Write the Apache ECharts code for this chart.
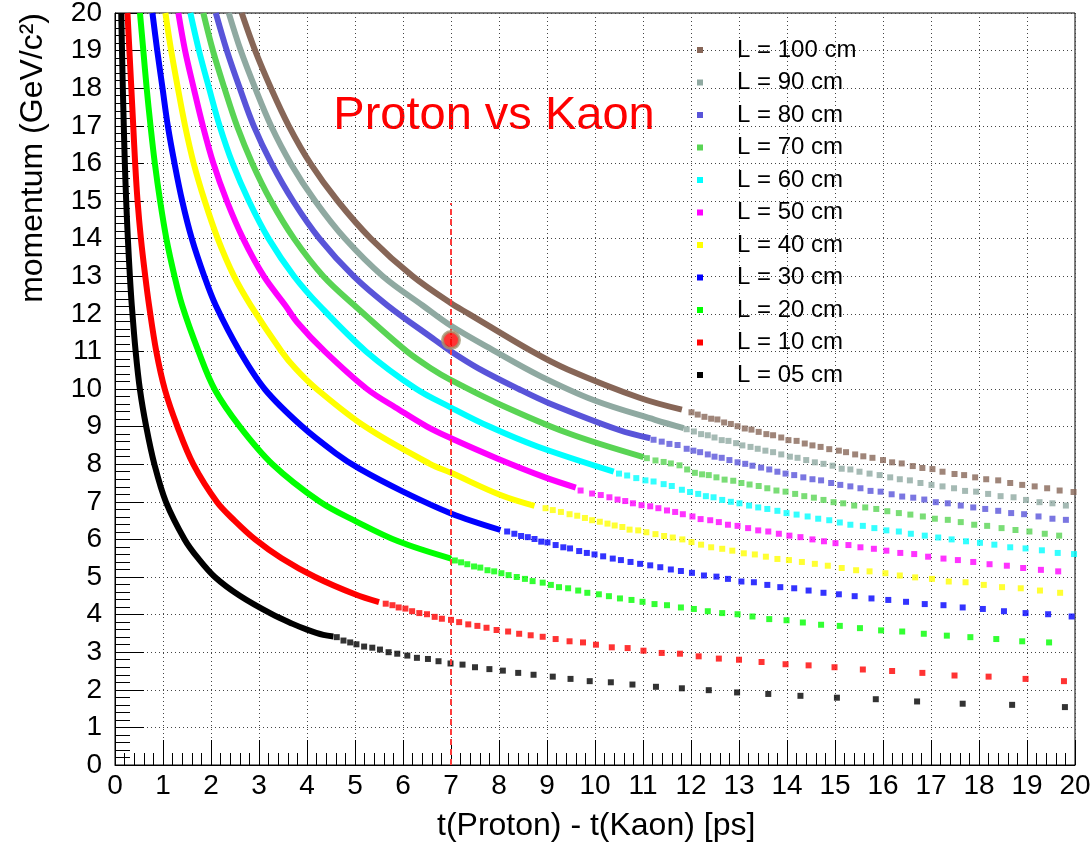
<!DOCTYPE html>
<html>
<head>
<meta charset="utf-8">
<title>Proton vs Kaon</title>
<script src="https://cdn.jsdelivr.net/npm/echarts@6.0.0/dist/echarts.min.js"></script>
<style>
  html, body { margin: 0; padding: 0; background: #fff; }
  #chart { width: 1090px; height: 846px; }
</style>
</head>
<body>
<div id="chart"></div>
<script>
// values, every point is [t(Proton) - t(Kaon) in ps, momentum in GeV/c]
const names = ['L = 100 cm', 'L = 90 cm', 'L = 80 cm', 'L = 70 cm', 'L = 60 cm', 'L = 50 cm',
  'L = 40 cm', 'L = 30 cm', 'L = 20 cm', 'L = 10 cm', 'L = 05 cm'];

// where the markers overlap into a solid band
const dense100 = [[2.64,20],[2.92,19],[3.25,18],[3.62,17],[4.07,16],[4.64,15],[5.33,14],[6.2,13],[7.0,12.28],[7.37,12],[8.69,11],[9.43,10.52],[10.94,9.76],[11.81,9.45]];
const dense90 = [[2.37,20],[2.62,19],[2.92,18],[3.25,17],[3.66,16],[4.17,15],[4.79,14],[5.58,13],[6.41,12.22],[7.0,11.68],[7.92,11.0],[8.85,10.35],[9.98,9.7],[11.25,9.18],[11.85,8.96]];
const dense80 = [[2.1,20],[2.33,19],[2.6,18],[2.89,17],[3.26,16],[3.71,15],[4.26,14],[4.97,13],[5.68,12.22],[6.67,11.3],[7.0,11.0],[7.57,10.55],[8.41,10.0],[9.03,9.63],[10.5,8.91],[11.15,8.69]];
const dense70 = [[1.84,20],[2.04,19],[2.28,18],[2.54,17],[2.86,16],[3.25,15],[3.73,14],[4.34,13],[4.99,12.22],[6.08,11.0],[6.62,10.52],[6.98,10.25],[7.95,9.63],[9.43,8.83],[11.01,8.19]];
const dense60 = [[1.57,20],[1.75,19],[1.96,18],[2.18,17],[2.45,16],[2.79,15],[3.2,14],[3.73,13],[4.26,12.22],[5.23,11.0],[6.28,10.0],[6.98,9.52],[7.8,9.0],[8.8,8.47],[10.39,7.8]];
const dense50 = [[1.32,20],[1.46,19],[1.64,18],[1.83,17],[2.05,16],[2.33,15],[2.67,14],[3.1,13],[3.55,12.22],[3.8,11.77],[4.37,11.0],[5.25,10.0],[5.92,9.45],[6.5,9.0],[7.0,8.69],[7.95,8.16],[8.96,7.65],[9.6,7.38]];
const dense40 = [[1.05,20],[1.17,19],[1.31,18],[1.46,17],[1.64,16],[1.87,15],[2.14,14],[2.48,13],[2.83,12.22],[3.47,11],[3.77,10.53],[4.2,10.0],[5.21,9.0],[6.56,8.01],[7.0,7.77],[8.03,7.18],[8.74,6.89]];
const dense30 = [[0.78,20],[0.88,19],[0.99,18],[1.1,17],[1.24,16],[1.4,15],[1.6,14],[1.86,13],[2.1,12.22],[2.6,11],[3.13,9.98],[3.9,9],[4.6,8.29],[5.09,7.88],[6.0,7.27],[7.0,6.69],[8.03,6.25]];
const dense20 = [[0.52,20],[0.59,19],[0.66,18],[0.74,17],[0.83,16],[0.94,15],[1.07,14],[1.24,13],[1.4,12.22],[1.74,11],[2.08,9.98],[2.6,9],[3.28,8],[4.27,7],[4.99,6.5],[5.9,5.95],[7.0,5.49]];
const dense10 = [[0.26,20],[0.3,19],[0.34,18],[0.38,17],[0.42,16],[0.47,15],[0.54,14],[0.63,13],[0.71,12.22],[0.86,11],[1.04,9.98],[1.3,9],[1.63,8],[2.12,7],[2.49,6.5],[2.92,6],[3.47,5.5],[4.17,5],[5.0,4.54],[5.5,4.33]];
const dense05 = [[0.13,20],[0.146,19],[0.163,18],[0.183,17],[0.205,16],[0.233,15],[0.268,14],[0.31,13],[0.35,12.22],[0.43,11],[0.52,9.98],[0.65,9],[0.82,8],[1.06,7],[1.45,6],[1.73,5.5],[2.08,5],[2.6,4.5],[3.27,4.01],[3.69,3.76],[4.0,3.6],[4.34,3.46],[4.55,3.42]];

// where the markers stand apart
const dots100 = [[12.01,9.38],[12.14,9.32],[12.28,9.26],[12.42,9.21],[12.55,9.19],[12.69,9.11],[12.83,9.07],[12.97,9.01],[13.12,8.95],[13.26,8.92],[13.41,8.86],[13.57,8.8],[13.71,8.77],[13.88,8.71],[14.03,8.64],[14.2,8.62],[14.37,8.55],[14.53,8.5],[14.7,8.46],[14.88,8.4],[15.08,8.36],[15.23,8.32],[15.42,8.26],[15.59,8.21],[15.78,8.17],[16.0,8.11],[16.19,8.05],[16.39,8.02],[16.62,7.95],[16.82,7.9],[17.03,7.87],[17.24,7.8],[17.49,7.74],[17.69,7.71],[17.92,7.65],[18.15,7.6],[18.4,7.57],[18.65,7.5],[18.9,7.45],[19.16,7.41],[19.42,7.36],[19.68,7.3],[19.97,7.26]];
const dots90 = [[11.91,8.93],[12.06,8.87],[12.21,8.8],[12.35,8.77],[12.49,8.71],[12.64,8.64],[12.78,8.62],[12.94,8.56],[13.07,8.5],[13.24,8.46],[13.39,8.41],[13.55,8.36],[13.71,8.32],[13.88,8.26],[14.06,8.2],[14.22,8.17],[14.4,8.11],[14.58,8.05],[14.76,8.01],[14.95,7.96],[15.14,7.88],[15.32,7.86],[15.51,7.8],[15.72,7.75],[15.93,7.71],[16.15,7.65],[16.35,7.6],[16.56,7.57],[16.78,7.5],[17.01,7.45],[17.24,7.41],[17.48,7.36],[17.71,7.29],[17.94,7.27],[18.19,7.21],[18.45,7.15],[18.72,7.12],[18.98,7.05],[19.26,6.99],[19.53,6.96],[19.81,6.9]];
const dots80 = [[11.22,8.65],[11.39,8.6],[11.55,8.54],[11.72,8.51],[11.91,8.41],[12.05,8.36],[12.19,8.32],[12.35,8.26],[12.49,8.2],[12.64,8.17],[12.8,8.11],[12.97,8.05],[13.13,8.01],[13.28,7.96],[13.46,7.91],[13.63,7.86],[13.8,7.8],[13.97,7.75],[14.15,7.71],[14.34,7.65],[14.53,7.6],[14.71,7.57],[14.92,7.5],[15.11,7.45],[15.32,7.41],[15.53,7.36],[15.74,7.29],[15.95,7.27],[16.18,7.2],[16.4,7.14],[16.63,7.11],[16.86,7.06],[17.1,6.99],[17.35,6.96],[17.62,6.9],[17.88,6.85],[18.13,6.81],[18.4,6.76],[18.67,6.7],[18.94,6.67],[19.24,6.61],[19.53,6.55],[19.81,6.52]];
const dots70 = [[11.08,8.16],[11.26,8.1],[11.43,8.06],[11.58,8.02],[11.76,7.97],[11.92,7.86],[12.08,7.77],[12.23,7.73],[12.37,7.71],[12.53,7.65],[12.7,7.59],[12.88,7.56],[13.05,7.5],[13.22,7.46],[13.41,7.42],[13.59,7.36],[13.78,7.3],[13.97,7.27],[14.17,7.21],[14.36,7.15],[14.56,7.11],[14.76,7.05],[14.97,6.99],[15.17,6.96],[15.4,6.9],[15.63,6.85],[15.86,6.81],[16.09,6.75],[16.33,6.7],[16.57,6.66],[16.83,6.61],[17.08,6.55],[17.35,6.52],[17.62,6.46],[17.9,6.39],[18.17,6.36],[18.47,6.3],[18.76,6.25],[19.05,6.21],[19.37,6.15],[19.67,6.1]];
const dots60 = [[10.5,7.75],[10.67,7.7],[10.86,7.63],[11.05,7.57],[11.22,7.54],[11.43,7.47],[11.6,7.42],[11.81,7.32],[11.98,7.26],[12.15,7.21],[12.31,7.15],[12.47,7.12],[12.65,7.05],[12.83,7.0],[13.01,6.96],[13.21,6.9],[13.4,6.85],[13.59,6.81],[13.8,6.76],[13.99,6.7],[14.2,6.66],[14.43,6.61],[14.65,6.55],[14.88,6.51],[15.1,6.45],[15.32,6.39],[15.58,6.36],[15.82,6.3],[16.07,6.24],[16.33,6.21],[16.58,6.15],[16.87,6.1],[17.15,6.05],[17.43,6.0],[17.73,5.95],[18.02,5.91],[18.32,5.86],[18.65,5.79],[18.97,5.76],[19.31,5.71],[19.64,5.64],[19.98,5.61]];
const dots50 = [[9.7,7.3],[9.94,7.22],[10.12,7.18],[10.3,7.12],[10.47,7.06],[10.63,7.02],[10.79,6.96],[10.97,6.91],[11.15,6.88],[11.32,6.83],[11.5,6.77],[11.67,6.73],[11.83,6.67],[12.03,6.61],[12.2,6.54],[12.4,6.51],[12.58,6.46],[12.77,6.39],[12.97,6.36],[13.19,6.3],[13.4,6.24],[13.61,6.21],[13.83,6.15],[14.05,6.1],[14.28,6.06],[14.53,6.0],[14.77,5.95],[15.01,5.9],[15.28,5.85],[15.53,5.79],[15.81,5.75],[16.07,5.7],[16.36,5.64],[16.65,5.61],[16.94,5.54],[17.26,5.49],[17.56,5.45],[17.88,5.4],[18.22,5.34],[18.58,5.3],[18.92,5.24],[19.29,5.19],[19.65,5.15]];
const dots40 = [[8.97,6.83],[9.12,6.78],[9.29,6.73],[9.47,6.67],[9.63,6.63],[9.79,6.57],[9.94,6.51],[10.1,6.47],[10.26,6.42],[10.41,6.37],[10.57,6.33],[10.72,6.26],[10.9,6.24],[11.07,6.19],[11.26,6.14],[11.44,6.09],[11.62,6.05],[11.82,6.0],[12.01,5.93],[12.21,5.86],[12.42,5.79],[12.65,5.75],[12.86,5.7],[13.1,5.63],[13.33,5.6],[13.56,5.54],[13.8,5.48],[14.04,5.45],[14.31,5.4],[14.58,5.35],[14.85,5.3],[15.14,5.24],[15.44,5.18],[15.72,5.15],[16.05,5.1],[16.35,5.04],[16.67,4.99],[17.02,4.95],[17.37,4.88],[17.72,4.86],[18.1,4.79],[18.48,4.73],[18.87,4.7],[19.27,4.64],[19.69,4.58]];
const dots30 = [[8.17,6.21],[8.32,6.15],[8.46,6.09],[8.6,6.06],[8.74,6.01],[8.88,5.94],[9.01,5.92],[9.18,5.85],[9.34,5.79],[9.48,5.76],[9.67,5.69],[9.83,5.64],[9.99,5.6],[10.17,5.55],[10.37,5.49],[10.54,5.45],[10.74,5.4],[10.94,5.35],[11.15,5.31],[11.36,5.26],[11.58,5.2],[11.79,5.16],[12.02,5.11],[12.27,5.04],[12.53,5.01],[12.77,4.95],[13.05,4.88],[13.31,4.86],[13.59,4.79],[13.86,4.73],[14.15,4.7],[14.45,4.64],[14.76,4.58],[15.08,4.54],[15.41,4.49],[15.76,4.43],[16.11,4.39],[16.48,4.34],[16.87,4.28],[17.26,4.25],[17.66,4.19],[18.08,4.15],[18.52,4.09],[18.97,4.04],[19.44,4.01],[19.93,3.95]];
const dots20 = [[7.08,5.44],[7.21,5.39],[7.34,5.34],[7.48,5.28],[7.61,5.25],[7.76,5.18],[7.9,5.15],[8.05,5.1],[8.2,5.05],[8.37,5.0],[8.54,4.95],[8.7,4.89],[8.91,4.85],[9.08,4.79],[9.25,4.73],[9.44,4.7],[9.65,4.64],[9.84,4.58],[10.08,4.54],[10.29,4.49],[10.52,4.43],[10.76,4.39],[10.99,4.34],[11.24,4.28],[11.5,4.25],[11.79,4.19],[12.06,4.15],[12.35,4.09],[12.65,4.04],[12.97,4.01],[13.28,3.95],[13.63,3.88],[13.99,3.85],[14.33,3.79],[14.71,3.73],[15.1,3.7],[15.52,3.64],[15.96,3.58],[16.4,3.55],[16.85,3.49],[17.33,3.44],[17.82,3.4],[18.36,3.35],[18.9,3.29],[19.46,3.26]];
const dots10 = [[5.64,4.29],[5.78,4.25],[5.91,4.19],[6.05,4.16],[6.19,4.09],[6.34,4.04],[6.5,4.01],[6.66,3.94],[6.81,3.89],[7.0,3.86],[7.17,3.8],[7.36,3.74],[7.55,3.7],[7.74,3.65],[7.95,3.59],[8.19,3.55],[8.42,3.49],[8.66,3.45],[8.91,3.41],[9.18,3.35],[9.47,3.29],[9.75,3.26],[10.02,3.2],[10.35,3.13],[10.68,3.11],[11.01,3.04],[11.39,2.98],[11.77,2.96],[12.16,2.89],[12.58,2.83],[13.0,2.8],[13.47,2.74],[13.97,2.68],[14.45,2.65],[14.99,2.6],[15.58,2.54],[16.19,2.5],[16.82,2.45],[17.49,2.38],[18.2,2.35],[18.97,2.29],[19.77,2.23]];
const dots05 = [[4.62,3.4],[4.76,3.31],[4.9,3.26],[5.03,3.21],[5.19,3.15],[5.36,3.12],[5.52,3.07],[5.7,3.0],[5.88,2.96],[6.09,2.91],[6.29,2.85],[6.52,2.82],[6.74,2.76],[6.99,2.7],[7.24,2.67],[7.5,2.6],[7.8,2.55],[8.08,2.51],[8.4,2.45],[8.72,2.4],[9.12,2.35],[9.49,2.29],[9.89,2.23],[10.33,2.2],[10.78,2.14],[11.27,2.08],[11.81,2.04],[12.37,1.99],[12.96,1.93],[13.61,1.89],[14.28,1.84],[15.04,1.79],[15.85,1.75],[16.71,1.69],[17.66,1.63],[18.69,1.6],[19.79,1.54]];

const cutLine = [[7, 0], [7, 14.95]];
const markedPoint = [[7, 11.3]];

const denseSets = [dense100, dense90, dense80, dense70, dense60, dense50, dense40, dense30, dense20, dense10, dense05];
const dotSets = [dots100, dots90, dots80, dots70, dots60, dots50, dots40, dots30, dots20, dots10, dots05];
const colors = ['#876657', '#8fa9a1', '#5954d9', '#59d454', '#00ffff', '#ff00ff',
  '#ffff00', '#0000ff', '#00ff00', '#ff0000', '#000000'];

const font = 'Liberation Sans, Arial, Helvetica, sans-serif';
const chart = echarts.init(document.getElementById('chart'));

const series = [];
names.forEach(function (name, i) {
  series.push({
    name: name,
    type: 'line',
    data: denseSets[i],
    smooth: 0.35,
    showSymbol: false,
    symbol: 'none',
    lineStyle: { color: colors[i], width: 6 },
    itemStyle: { color: colors[i] },
    silent: true,
  });
  series.push({
    name: name,
    type: 'scatter',
    data: dotSets[i],
    symbol: 'rect',
    symbolSize: 6,
    itemStyle: { color: colors[i] },
    silent: true,
  });
});
series.push({
  type: 'line',
  data: cutLine,
  symbol: 'none',
  lineStyle: { color: '#ff3b3b', width: 2, type: [6, 4] },
  silent: true,
  z: 4,
});
series.push({
  type: 'scatter',
  data: markedPoint,
  symbol: 'circle',
  symbolSize: 17,
  itemStyle: { color: '#ff0000', borderColor: '#a39672', borderWidth: 3 },
  silent: true,
  z: 5,
});

const axisCommon = {
  type: 'value',
  min: 0,
  max: 20,
  interval: 1,
  axisLine: { show: true, onZero: false, lineStyle: { color: '#000', width: 1 } },
  axisTick: { show: true, inside: true, lineStyle: { color: '#000', width: 1 } },
  minorTick: { show: true, splitNumber: 5, lineStyle: { color: '#000', width: 1 } },
  splitLine: { show: true, lineStyle: { color: '#444', width: 1, type: [1, 3] } },
  axisLabel: { color: '#000', fontSize: 28, fontFamily: font },
};

chart.setOption({
  animation: false,
  backgroundColor: '#fff',
  grid: {
    left: 115, right: 15, top: 13, bottom: 81,
    show: true, borderColor: '#000', borderWidth: 1,
    containLabel: false, outerBoundsMode: 'none',
  },
  xAxis: Object.assign({}, axisCommon, {
    axisTick: Object.assign({}, axisCommon.axisTick, { length: 25 }),
    minorTick: Object.assign({}, axisCommon.minorTick, { length: 12 }),
    axisLabel: Object.assign({}, axisCommon.axisLabel, { margin: 7 }),
  }),
  yAxis: Object.assign({}, axisCommon, {
    axisTick: Object.assign({}, axisCommon.axisTick, { length: 29 }),
    minorTick: Object.assign({}, axisCommon.minorTick, { length: 15 }),
    axisLabel: Object.assign({}, axisCommon.axisLabel, { margin: 13 }),
  }),
  legend: {
    data: names,
    orient: 'vertical',
    left: 692,
    top: 33,
    icon: 'rect',
    itemWidth: 6,
    itemHeight: 6,
    itemGap: 8.5,
    selectedMode: false,
    textStyle: { color: '#000', fontSize: 24, fontFamily: font, lineHeight: 24, padding: [0, 0, 0, 29] },
  },
  graphic: [
    {
      type: 'text', x: 494, y: 116, silent: true,
      style: { text: 'Proton vs Kaon', fill: '#ff0000', font: '47px ' + font, align: 'center', verticalAlign: 'middle' },
    },
    {
      type: 'text', x: 33, y: 13, rotation: Math.PI / 2, silent: true,
      style: { text: 'momentum (GeV/c²)', fill: '#000', font: '32px ' + font, align: 'right', verticalAlign: 'middle' },
    },
    {
      type: 'text', x: 437, y: 826, silent: true,
      style: { text: 't(Proton) - t(Kaon) [ps]', fill: '#000', font: '32px ' + font, align: 'left', verticalAlign: 'middle' },
    },
  ],
  series: series,
});
</script>
</body>
</html>
